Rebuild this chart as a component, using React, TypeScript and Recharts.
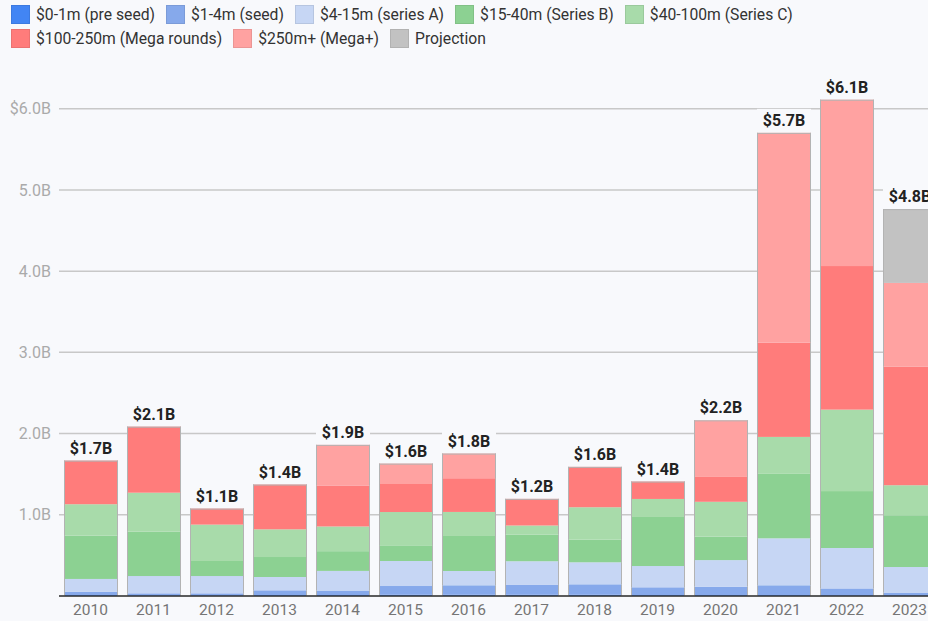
import { BarChart, Bar, XAxis, YAxis, CartesianGrid } from 'recharts'

// funding by round size, billions
const YEARS = ['2010', '2011', '2012', '2013', '2014', '2015', '2016', '2017', '2018', '2019', '2020', '2021', '2022', '2023']
const PRE_SEED = [0.012, 0.01, 0.01, 0.012, 0.012, 0.015, 0.015, 0.015, 0.015, 0.012, 0.012, 0.012, 0.01, 0.01]
const SEED = [0.038, 0.023, 0.023, 0.058, 0.055, 0.108, 0.117, 0.121, 0.129, 0.095, 0.103, 0.12, 0.083, 0.032]
const SERIES_A = [0.16, 0.213, 0.213, 0.164, 0.242, 0.308, 0.176, 0.292, 0.271, 0.262, 0.327, 0.578, 0.498, 0.315]
const SERIES_B = [0.533, 0.546, 0.185, 0.246, 0.243, 0.193, 0.431, 0.329, 0.28, 0.604, 0.289, 0.794, 0.701, 0.637]
const SERIES_C = [0.387, 0.48, 0.448, 0.341, 0.304, 0.41, 0.296, 0.111, 0.398, 0.222, 0.429, 0.455, 1.003, 0.37]
const MEGA = [0.537, 0.813, 0.197, 0.551, 0.505, 0.345, 0.415, 0.328, 0.497, 0.214, 0.306, 1.16, 1.768, 1.462]
const MEGA_PLUS = [0, 0, 0, 0, 0.5, 0.251, 0.304, 0, 0, 0, 0.697, 2.584, 2.048, 1.029]
const PROJECTION = [0, 0, 0, 0, 0, 0, 0, 0, 0, 0, 0, 0, 0, 0.909]
const Y_TICKS = [0, 1, 2, 3, 4, 5, 6]

const BG = '#f8f9fc'
const FONT = 'Roboto, sans-serif'

const SERIES = [
  { key: 'preSeed', label: '$0-1m (pre seed)', color: '#4285f4', values: PRE_SEED },
  { key: 'seed', label: '$1-4m (seed)', color: '#86a9eb', values: SEED },
  { key: 'seriesA', label: '$4-15m (series A)', color: '#c6d6f4', values: SERIES_A },
  { key: 'seriesB', label: '$15-40m (Series B)', color: '#8cd192', values: SERIES_B },
  { key: 'seriesC', label: '$40-100m (Series C)', color: '#a8dbaa', values: SERIES_C },
  { key: 'mega', label: '$100-250m (Mega rounds)', color: '#ff7c7b', values: MEGA },
  { key: 'megaPlus', label: '$250m+ (Mega+)', color: '#ffa2a1', values: MEGA_PLUS },
  { key: 'projection', label: 'Projection', color: '#c2c2c2', values: PROJECTION },
]

const data = YEARS.map((year, i) => {
  const row: any = { year }
  let total = 0
  SERIES.forEach(s => {
    row[s.key] = s.values[i]
    total += s.values[i]
  })
  row.total = total
  return row
})

// draws a segment with side edges; the top segment also gets the top edge and total label
function makeShape(idx: number) {
  return (props: any) => {
    const { x, y, width, height, fill, payload } = props
    if (!height || height <= 0) return <g />
    const isTop = SERIES.slice(idx + 1).every(s => !payload[s.key])
    const edge = '#b3b3b3'
    const cx = x + width / 2
    return (
      <g>
        <rect x={x} y={y} width={width} height={height} fill={fill} />
        <line x1={x + 0.5} y1={y} x2={x + 0.5} y2={y + height} stroke={edge} strokeWidth={1} />
        <line x1={x + width - 0.5} y1={y} x2={x + width - 0.5} y2={y + height} stroke={edge} strokeWidth={1} />
        {isTop && (
          <>
            <line x1={x} y1={y + 0.5} x2={x + width} y2={y + 0.5} stroke={edge} strokeWidth={1} />
            <rect x={cx - 27} y={y - 24} width={54} height={21} fill={BG} />
            <text x={cx} y={y - 7} textAnchor="middle" fontSize={16} fontWeight={700}
                  fill="#222" fontFamily={FONT}>
              {`$${payload.total.toFixed(1)}B`}
            </text>
          </>
        )}
      </g>
    )
  }
}

function LegendBlock() {
  return (
    <div style={{
      position: 'absolute', top: 5, left: 11, width: 915,
      display: 'flex', flexWrap: 'wrap', columnGap: 11, rowGap: 5,
      fontFamily: FONT, fontSize: 15.7, color: '#333',
    }}>
      {SERIES.map(s => (
        <div key={s.key} style={{ display: 'flex', alignItems: 'center', height: 19 }}>
          <span style={{
            width: 19, height: 19, background: s.color, boxSizing: 'border-box',
            border: '1px solid rgba(0,0,0,0.08)', marginRight: 6,
          }} />
          <span style={{ lineHeight: '19px', whiteSpace: 'nowrap' }}>{s.label}</span>
        </div>
      ))}
    </div>
  )
}

export default function App() {
  return (
    <div style={{
      position: 'fixed', top: 0, left: 0, width: 928, height: 621,
      overflow: 'hidden', background: BG,
    }}>
      <LegendBlock />
      <BarChart width={950} height={621} data={data}
                margin={{ top: 60, right: 9, left: -1, bottom: 0 }}>
        <CartesianGrid vertical={false} horizontalValues={Y_TICKS} stroke="#c8c8c8" strokeWidth={1.5} />
        <XAxis dataKey="year" height={25} tickLine={false}
               axisLine={{ stroke: '#333', strokeWidth: 1.5 }}
               tick={{ fontSize: 15.5, fill: '#757575', fontFamily: FONT }} />
        <YAxis width={60} domain={[0, 6.6]} ticks={Y_TICKS} interval={0}
               axisLine={false} tickLine={false}
               tick={{ fontSize: 16, fill: '#aaa', fontFamily: FONT }}
               tickFormatter={v => v === 0 ? '' : v === 6 ? '$6.0B' : `${v.toFixed(1)}B`} />
        {SERIES.map((s, i) => (
          <Bar key={s.key} dataKey={s.key} stackId="a" fill={s.color} barSize={54}
               shape={makeShape(i)} isAnimationActive={false} />
        ))}
      </BarChart>
    </div>
  )
}
